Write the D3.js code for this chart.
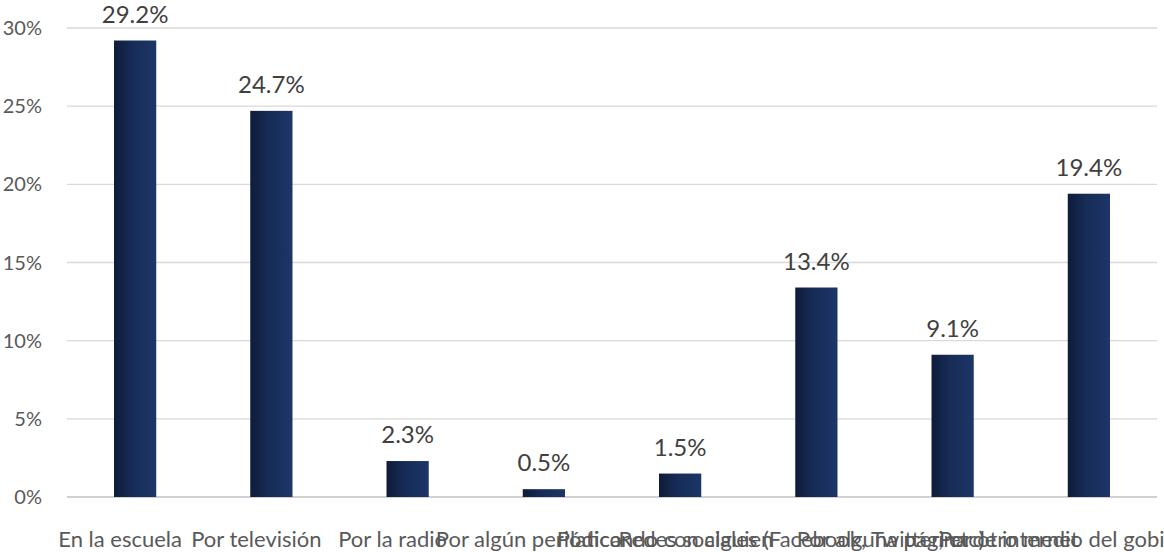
<!DOCTYPE html>
<html><head><meta charset="utf-8">
<script src="https://cdn.jsdelivr.net/npm/d3@7"></script>
<style>body{margin:0;background:#fff}svg{display:block}text{font-family:Lato,"Open Sans",sans-serif}</style>
</head><body><svg id="c" width="1164" height="552"></svg>
<script>
const categories = ["En la escuela","Por televisión","Por la radio","Por algún periódico","Platicando con alguien","Redes sociales (Facebook, Twitter, etc)","Por alguna página de internet","Por otro medio del gobierno"];
const values = [29.2,24.7,2.3,0.5,1.5,13.4,9.1,19.4];
const ticks = [0,5,10,15,20,25,30];

const svg = d3.select("#c");
const x = d3.scaleBand().domain(categories).range([67,1157]).paddingInner(0.69).paddingOuter(0.345);
const y = d3.scaleLinear().domain([0,30]).range([497,28]);

const defs = svg.append("defs");
const g = defs.append("linearGradient").attr("id","bg").attr("x1","0").attr("x2","1").attr("y1","0").attr("y2","0");
g.append("stop").attr("offset","0").attr("stop-color","#0e1c3a");
g.append("stop").attr("offset","0.45").attr("stop-color","#172c57");
g.append("stop").attr("offset","1").attr("stop-color","#1d3668");

svg.append("g").selectAll("line").data(ticks).join("line")
  .attr("x1",67).attr("x2",1157).attr("y1",d=>y(d)).attr("y2",d=>y(d))
  .attr("stroke",d=>d===0?"#d0d0d0":"#d9d9d9").attr("stroke-width",d=>d===0?2:1.3);

svg.append("g").selectAll("text").data(ticks).join("text")
  .attr("x",42).attr("y",d=>y(d)).attr("dy","0.35em").attr("text-anchor","end")
  .attr("fill","#595959").attr("font-size",20).text(d=>d+"%");

svg.append("g").selectAll("rect").data(values).join("rect")
  .attr("x",(d,i)=>x(categories[i])).attr("width",x.bandwidth())
  .attr("y",d=>y(d)).attr("height",d=>y(0)-y(d)).attr("fill","url(#bg)");

svg.append("g").selectAll("text").data(values).join("text")
  .attr("x",(d,i)=>x(categories[i])+x.bandwidth()/2).attr("y",d=>y(d)-18)
  .attr("text-anchor","middle").attr("fill","#404040").attr("font-size",24)
  .text(d=>d.toFixed(1)+"%");

svg.append("g").selectAll("text").data(categories).join("text")
  .attr("x",d=>x(d)+x.bandwidth()/2-15).attr("y",547)
  .attr("text-anchor","middle").attr("fill","#595959").attr("font-size",22)
  .text(d=>d);
</script></body></html>
